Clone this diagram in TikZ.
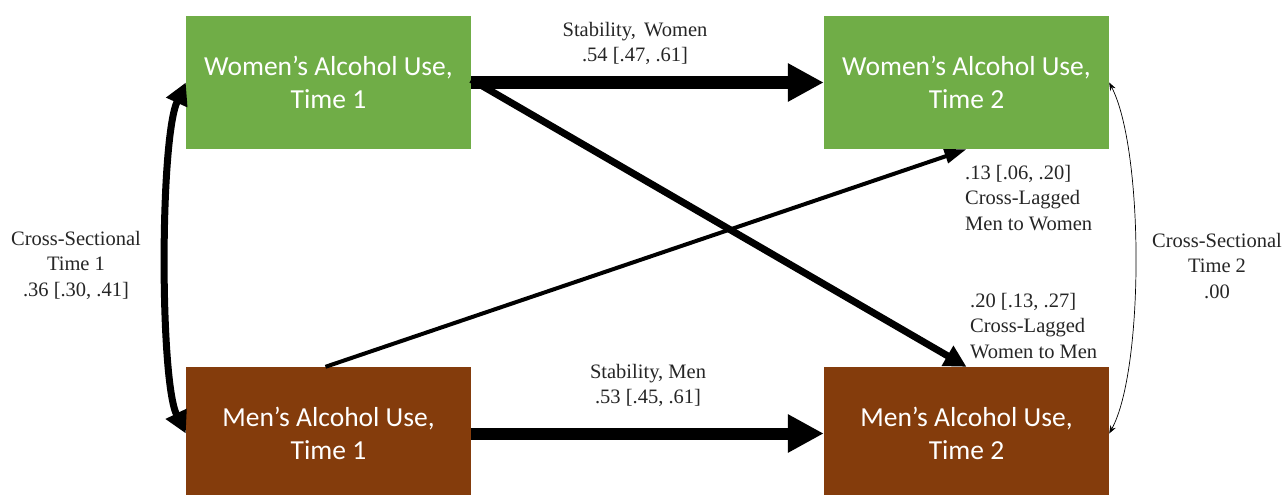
\documentclass[tikz,border=0pt]{standalone}
\usepackage{fontspec}
\setmainfont{Liberation Serif}
\newfontfamily\boxfont{Carlito}
\usetikzlibrary{arrows.meta}
\definecolor{wgreen}{HTML}{70AD47}
\definecolor{mbrown}{HTML}{843C0C}
\definecolor{lbl}{HTML}{262626}
\begin{document}
\begin{tikzpicture}[x=1pt,y=-1pt,
  varbox/.style={minimum width=285pt, minimum height=133pt, inner sep=0pt, text=white, align=center, font=\boxfont\fontsize{27.5}{33}\selectfont},
  lab/.style={text=lbl, font=\fontsize{20.5}{25.5}\selectfont, inner sep=0pt},
  stab/.style={line width=12pt, -{Triangle[length=36pt,width=36pt]}},
  lagw/.style={line width=7pt, -{Triangle[length=22pt,width=22pt]}},
  lagm/.style={line width=4pt, -{Triangle[length=22pt,width=14pt]}},
  cs1/.style={line width=7pt, {Triangle[length=22pt,width=22pt]}-{Triangle[length=22pt,width=22pt]}},
  cs2/.style={line width=0.7pt, {Stealth[length=8pt,width=6pt]}-{Stealth[length=8pt,width=6pt]}}]
\useasboundingbox (0,0) rectangle (1285,495);
\fill[white] (0,0) rectangle (1285,495);
\node[varbox, fill=wgreen] (w1) at (328.5,82.5) {Women’s Alcohol Use,\\Time 1};
\node[varbox, fill=wgreen] (w2) at (966.5,82.5) {Women’s Alcohol Use,\\Time 2};
\node[varbox, fill=mbrown] (m1) at (328.5,433.5) {Men’s Alcohol Use,\\Time 1};
\node[varbox, fill=mbrown] (m2) at (966.5,433.5) {Men’s Alcohol Use,\\Time 2};
\node[lab, align=center] (lsw) at (635,43.5) {Stability,\hspace{0.4em}Women\\.54 [.47, .61]};
\node[lab, align=center] (lsm) at (648,385.5) {Stability,\ Men\\.53 [.45, .61]};
\node[lab, align=left, anchor=west] (lmw) at (965,198) {.13 [.06, .20]\\Cross-Lagged\\Men to Women};
\node[lab, align=left, anchor=west] (lwm) at (970,326) {.20 [.13, .27]\\Cross-Lagged\\Women to Men};
\node[lab, align=center] (lc1) at (76,265) {Cross-Sectional\\Time 1\\.36 [.30, .41]};
\node[lab, align=center] (lc2) at (1217,266) {Cross-Sectional\\Time 2\\.00};
\draw[stab] (w1.east) -- (w2.west);
\draw[stab] (m1.east) -- (m2.west);
\draw[lagw] ([yshift=3pt]w1.east) -- (m2.north);
\draw[lagm] ([xshift=-3pt]m1.north) -- (w2.south);
\draw[cs1] (w1.west) .. controls +(-26,57) and +(-26,-53) .. (m1.west);
\draw[cs2] (w2.east) .. controls +(35,67) and +(35,-63) .. (m2.east);
\end{tikzpicture}
\end{document}
